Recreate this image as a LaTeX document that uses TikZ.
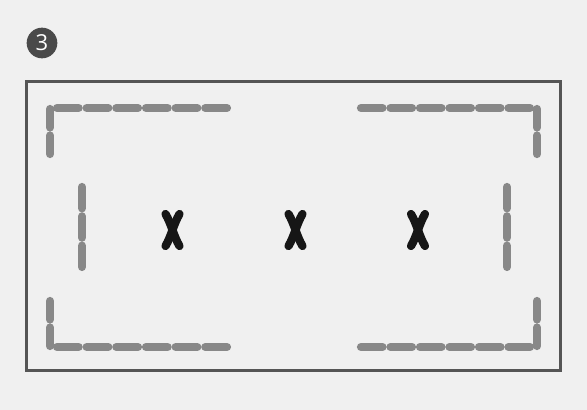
\documentclass[tikz,border=0pt]{standalone}
\usepackage{fontspec}
\setsansfont{Open Sans}
\definecolor{bgcol}{HTML}{F0F0F0}
\definecolor{framecol}{HTML}{555555}
\definecolor{segcol}{HTML}{888888}
\definecolor{badgecol}{HTML}{4A4A4A}
\definecolor{markcol}{HTML}{161616}

\begin{document}
\begin{tikzpicture}[
	x=0.75pt, y=-0.75pt,
	seg/.style={draw=segcol, line width=6.2pt, line cap=round},
	frame/.style={draw=framecol, line width=2.6pt},
	badge/.style={circle, fill=badgecol, text=white, minimum size=23pt, inner sep=0pt, font=\sffamily\fontsize{16.5}{16.5}\selectfont},
	xmark/.style={draw=markcol, line width=6.2pt, line cap=round},
	font=\sffamily
	]

	\fill[bgcol] (0,0) rectangle (587,410);
	\useasboundingbox (0,0) rectangle (587,410);

	\node[badge] (num) at (42,43) {3};

	\draw[frame] (26.5,81.5) rectangle (560.5,370.5);

	% corner brackets
	\foreach \i in {0,...,5} {
		\draw[seg] ({57+\i*29.67},108) -- ({57+\i*29.67+21.6},108);
		\draw[seg] ({57+\i*29.67},347) -- ({57+\i*29.67+21.6},347);
		\draw[seg] ({361+\i*29.5},108) -- ({361+\i*29.5+21.5},108);
		\draw[seg] ({361+\i*29.5},347) -- ({361+\i*29.5+21.5},347);
	}
	\foreach \i in {0,1} {
		\draw[seg] (50,{109+\i*26.5}) -- (50,{109+\i*26.5+18.5});
		\draw[seg] (537,{109+\i*26.5}) -- (537,{109+\i*26.5+18.5});
		\draw[seg] (50,{301+\i*26.5}) -- (50,{301+\i*26.5+18.5});
		\draw[seg] (537,{301+\i*26.5}) -- (537,{301+\i*26.5+18.5});
	}

	% side bars
	\foreach \i in {0,1,2} {
		\draw[seg] (82,{187+\i*29.33}) -- (82,{187+\i*29.33+21.3});
		\draw[seg] (507,{187+\i*29.33}) -- (507,{187+\i*29.33+21.3});
	}

	% marks
	\foreach \cx in {172.5,295.5,418} {
		\draw[xmark] (\cx-7,214) .. controls (\cx-1,224) and (\cx+1,236) .. (\cx+7,246);
		\draw[xmark] (\cx+7,214) .. controls (\cx+1,224) and (\cx-1,236) .. (\cx-7,246);
	}

\end{tikzpicture}
\end{document}
